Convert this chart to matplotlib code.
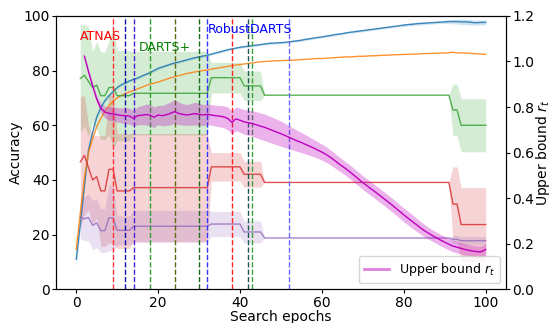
import numpy as np
import matplotlib
matplotlib.use("Agg")
from matplotlib import pyplot as plt
from matplotlib.lines import Line2D

# accuracy curves, epochs 0..100
epochs = np.arange(0, 101)
blue_acc = [11.0, 24.0, 38.0, 51.0, 57.5, 63.0, 66.5, 69.0, 70.8, 72.3,
            73.8, 74.8, 75.5, 76.2, 76.8, 77.3, 78.0, 78.6, 79.2, 80.0,
            80.8, 81.3, 81.8, 82.3, 82.8, 83.1, 83.5, 83.9, 84.3, 84.7,
            85.0, 85.3, 85.6, 86.0, 86.4, 86.8, 87.2, 87.6, 87.9, 88.2,
            88.5, 88.7, 88.9, 89.1, 89.3, 89.5, 89.7, 89.9, 90.0, 90.1,
            90.2, 90.3, 90.5, 90.7, 90.9, 91.1, 91.4, 91.6, 91.9, 92.1,
            92.3, 92.6, 92.8, 93.1, 93.3, 93.5, 93.8, 94.0, 94.2, 94.4,
            94.6, 94.8, 95.0, 95.2, 95.4, 95.6, 95.8, 96.0, 96.2, 96.4,
            96.6, 96.8, 96.9, 97.1, 97.2, 97.3, 97.4, 97.5, 97.6, 97.7,
            97.8, 97.9, 97.9, 97.9, 97.8, 97.8, 97.7, 97.5, 97.5, 97.6, 97.6]
blue_std = [3.0, 2.0, 1.5, 1.0, 0.8, 0.6, 0.5, 0.5, 0.5, 0.5,
            0.4, 0.4, 0.4, 0.4, 0.4, 0.4, 0.4, 0.4, 0.4, 0.4,
            0.4, 0.4, 0.4, 0.4, 0.4, 0.4, 0.4, 0.4, 0.4, 0.4,
            0.4, 0.4, 0.4, 0.4, 0.4, 0.4, 0.4, 0.4, 0.4, 0.4,
            0.4, 0.4, 0.4, 0.4, 0.4, 0.4, 0.4, 0.4, 0.4, 0.4,
            0.4, 0.4, 0.4, 0.4, 0.4, 0.4, 0.4, 0.4, 0.4, 0.4,
            0.4, 0.4, 0.4, 0.4, 0.4, 0.4, 0.4, 0.4, 0.4, 0.4,
            0.4, 0.4, 0.4, 0.4, 0.4, 0.4, 0.4, 0.4, 0.4, 0.4,
            0.5, 0.5, 0.5, 0.5, 0.5, 0.5, 0.5, 0.5, 0.5, 0.5,
            0.6, 0.7, 0.8, 0.9, 1.0, 1.0, 1.0, 1.0, 0.9, 0.9, 0.9]
orange_acc = [14.6, 28.0, 41.0, 50.0, 55.0, 59.5, 62.5, 65.0, 67.2, 68.8,
              70.0, 70.9, 71.6, 72.2, 72.7, 73.3, 73.9, 74.5, 75.0, 75.4,
              75.8, 76.3, 76.8, 77.3, 77.7, 78.1, 78.5, 78.9, 79.2, 79.5,
              79.8, 80.0, 80.2, 80.5, 80.8, 81.0, 81.3, 81.5, 81.8, 82.0,
              82.2, 82.4, 82.6, 82.8, 83.0, 83.2, 83.3, 83.4, 83.5, 83.6,
              83.6, 83.7, 83.7, 83.8, 83.9, 84.0, 84.1, 84.2, 84.3, 84.4,
              84.4, 84.5, 84.6, 84.7, 84.8, 84.9, 85.0, 85.0, 85.1, 85.2,
              85.2, 85.3, 85.4, 85.4, 85.5, 85.6, 85.6, 85.7, 85.8, 85.8,
              85.9, 85.9, 86.0, 86.0, 86.1, 86.2, 86.2, 86.3, 86.3, 86.4,
              86.4, 86.5, 86.7, 86.4, 86.5, 86.4, 86.3, 86.2, 86.1, 86.0, 85.9]

# per-run curves (mean / std), epochs 1..100
run_epochs = np.arange(1, 101)
green_mean = [77.1, 78.3, 76.0, 73.8, 74.7, 70.8, 70.8, 73.8, 73.8, 70.8,
              70.8, 70.8, 70.8, 71.7, 71.7, 71.7, 71.7, 71.7, 71.7, 71.7,
              71.7, 71.7, 71.7, 71.7, 71.7, 71.7, 71.7, 71.7, 71.7, 71.7,
              71.7, 71.7, 77.4, 77.4, 77.4, 77.4, 77.4, 77.4, 77.4, 77.4,
              74.4, 74.4, 74.4, 74.4, 74.4, 71.0, 71.0, 71.0, 71.0, 71.0,
              71.0, 71.0, 71.0, 71.0, 71.0, 71.0, 71.0, 71.0, 71.0, 71.0,
              71.0, 71.0, 71.0, 71.0, 71.0, 71.0, 71.0, 71.0, 71.0, 71.0,
              71.0, 71.0, 71.0, 71.0, 71.0, 71.0, 71.0, 71.0, 71.0, 71.0,
              71.0, 71.0, 71.0, 71.0, 71.0, 71.0, 71.0, 71.0, 71.0, 71.0,
              71.0, 65.6, 65.6, 60.0, 60.0, 60.0, 60.0, 60.0, 60.0, 60.0]
green_std = [19.5, 18.5, 20.0, 13.0, 16.0, 16.0, 16.0, 17.0, 22.0, 16.5,
             16.5, 16.5, 16.5, 15.3, 15.3, 15.3, 15.3, 15.3, 15.3, 15.3,
             15.3, 15.3, 15.3, 15.3, 15.3, 15.3, 15.3, 15.3, 15.3, 15.3,
             15.3, 15.3, 5.6, 5.6, 5.6, 5.6, 5.6, 5.6, 5.6, 5.6,
             5.4, 5.4, 5.4, 5.4, 5.4, 0, 0, 0, 0, 0,
             0, 0, 0, 0, 0, 0, 0, 0, 0, 0,
             0, 0, 0, 0, 0, 0, 0, 0, 0, 0,
             0, 0, 0, 0, 0, 0, 0, 0, 0, 0,
             0, 0, 0, 0, 0, 0, 0, 0, 0, 0,
             0, 9.4, 9.4, 9.7, 9.7, 9.7, 9.7, 9.7, 9.7, 9.7]
red_mean = [46.6, 49.0, 44.5, 40.0, 41.2, 36.0, 36.0, 43.9, 43.9, 36.0,
            36.0, 36.0, 36.0, 37.2, 37.2, 37.2, 37.2, 37.2, 37.2, 37.2,
            37.2, 37.2, 37.2, 37.2, 37.2, 37.2, 37.2, 37.2, 37.2, 37.2,
            37.2, 37.2, 44.8, 44.8, 44.8, 44.8, 44.8, 44.8, 44.8, 44.8,
            42.1, 42.1, 42.1, 42.1, 42.1, 39.1, 39.1, 39.1, 39.1, 39.1,
            39.1, 39.1, 39.1, 39.1, 39.1, 39.1, 39.1, 39.1, 39.1, 39.1,
            39.1, 39.1, 39.1, 39.1, 39.1, 39.1, 39.1, 39.1, 39.1, 39.1,
            39.1, 39.1, 39.1, 39.1, 39.1, 39.1, 39.1, 39.1, 39.1, 39.1,
            39.1, 39.1, 39.1, 39.1, 39.1, 39.1, 39.1, 39.1, 39.1, 39.1,
            39.1, 31.2, 31.2, 23.7, 23.7, 23.7, 23.7, 23.7, 23.7, 23.7]
red_std = [24.0, 21.8, 15.5, 16.3, 15.0, 20.3, 20.3, 27.0, 27.0, 21.0,
           21.0, 21.0, 21.0, 19.8, 19.8, 19.8, 19.8, 19.8, 19.8, 19.8,
           19.8, 19.8, 19.8, 19.8, 19.8, 19.8, 19.8, 19.8, 19.8, 19.8,
           19.8, 19.8, 5.2, 5.2, 5.2, 5.2, 5.2, 5.2, 5.2, 5.2,
           4.7, 4.7, 4.7, 4.7, 4.7, 0, 0, 0, 0, 0,
           0, 0, 0, 0, 0, 0, 0, 0, 0, 0,
           0, 0, 0, 0, 0, 0, 0, 0, 0, 0,
           0, 0, 0, 0, 0, 0, 0, 0, 0, 0,
           0, 0, 0, 0, 0, 0, 0, 0, 0, 0,
           0, 13.6, 13.6, 13.5, 13.5, 13.5, 13.5, 13.5, 13.5, 13.5]
purple_mean = [26.4, 25.8, 26.3, 23.4, 24.3, 21.5, 21.5, 26.1, 26.1, 21.6,
               21.6, 21.6, 21.6, 23.1, 23.1, 23.1, 23.1, 23.1, 23.1, 23.1,
               23.1, 23.1, 23.1, 23.1, 23.1, 23.1, 23.1, 23.1, 23.1, 23.1,
               23.1, 23.1, 23.9, 23.9, 23.9, 23.9, 23.9, 23.9, 23.9, 23.9,
               21.0, 21.0, 21.0, 21.0, 21.0, 18.8, 18.8, 18.8, 18.8, 18.8,
               18.8, 18.8, 18.8, 18.8, 18.8, 18.8, 18.8, 18.8, 18.8, 18.8,
               18.8, 18.8, 18.8, 18.8, 18.8, 18.8, 18.8, 18.8, 18.8, 18.8,
               18.8, 18.8, 18.8, 18.8, 18.8, 18.8, 18.8, 18.8, 18.8, 18.8,
               18.8, 18.8, 18.8, 18.8, 18.8, 18.8, 18.8, 18.8, 18.8, 18.8,
               18.8, 18.3, 18.3, 17.8, 17.8, 17.8, 17.8, 17.8, 17.8, 17.8]
purple_std = [7.8, 8.0, 8.5, 9.0, 9.0, 8.0, 8.0, 12.0, 12.0, 5.3,
              5.3, 5.3, 5.3, 5.8, 5.8, 5.8, 5.8, 5.8, 5.8, 5.8,
              5.8, 5.8, 5.8, 5.8, 5.8, 5.8, 5.8, 5.8, 5.8, 5.8,
              5.8, 5.8, 4.6, 4.6, 4.6, 4.6, 4.6, 4.6, 4.6, 4.6,
              4.0, 4.0, 4.0, 4.0, 4.0, 0, 0, 0, 0, 0,
              0, 0, 0, 0, 0, 0, 0, 0, 0, 0,
              0, 0, 0, 0, 0, 0, 0, 0, 0, 0,
              0, 0, 0, 0, 0, 0, 0, 0, 0, 0,
              0, 0, 0, 0, 0, 0, 0, 0, 0, 0,
              0, 1.5, 1.5, 1.5, 1.5, 1.5, 1.5, 1.5, 1.5, 1.5]

# upper bound r_t, epochs 2..100
rt_epochs = np.arange(2, 101)
rt_mean = [1.023, 0.955, 0.893, 0.835, 0.795, 0.778, 0.772, 0.770, 0.766,
           0.763, 0.762, 0.760, 0.750, 0.762, 0.764, 0.767, 0.765, 0.755, 0.765,
           0.762, 0.766, 0.772, 0.780, 0.772, 0.768, 0.765, 0.768, 0.771, 0.768,
           0.765, 0.768, 0.765, 0.762, 0.760, 0.757, 0.750, 0.733, 0.748, 0.742,
           0.735, 0.731, 0.727, 0.722, 0.716, 0.711, 0.704, 0.697, 0.690, 0.683,
           0.675, 0.667, 0.659, 0.651, 0.644, 0.636, 0.628, 0.620, 0.611, 0.602,
           0.592, 0.580, 0.567, 0.553, 0.540, 0.527, 0.513, 0.498, 0.483, 0.468,
           0.455, 0.441, 0.428, 0.414, 0.400, 0.386, 0.372, 0.357, 0.342, 0.327,
           0.313, 0.299, 0.285, 0.271, 0.258, 0.247, 0.236, 0.226, 0.216, 0.207,
           0.198, 0.190, 0.185, 0.180, 0.175, 0.171, 0.168, 0.165, 0.166, 0.175]
rt_std = [0.005, 0.010, 0.012, 0.015, 0.020, 0.025, 0.030, 0.030, 0.032,
          0.033, 0.035, 0.035, 0.035, 0.040, 0.042, 0.045, 0.048, 0.045, 0.042,
          0.045, 0.048, 0.050, 0.052, 0.050, 0.047, 0.045, 0.048, 0.050, 0.048,
          0.046, 0.045, 0.045, 0.046, 0.047, 0.048, 0.050, 0.050, 0.052, 0.053,
          0.054, 0.055, 0.056, 0.057, 0.058, 0.058, 0.058, 0.057, 0.056, 0.055,
          0.053, 0.050, 0.048, 0.046, 0.044, 0.042, 0.040, 0.038, 0.036, 0.035,
          0.034, 0.033, 0.032, 0.031, 0.030, 0.030, 0.030, 0.030, 0.030, 0.030,
          0.030, 0.030, 0.030, 0.030, 0.030, 0.030, 0.030, 0.030, 0.030, 0.030,
          0.030, 0.030, 0.029, 0.028, 0.027, 0.026, 0.025, 0.025, 0.025, 0.025,
          0.025, 0.025, 0.025, 0.025, 0.025, 0.025, 0.025, 0.025, 0.025, 0.025]

# stopping epochs of the baselines
vline_epochs = [9, 12, 14, 18, 24, 30, 32, 38, 42, 43, 52]
vline_colors = ["#ff3030", "#1010b0", "#4a20d0", "#2ca02c", "#5a6a10", "#1a6a1a",
                "#3535ff", "#ff2020", "#1a5a50", "#3aa03a", "#6a6aff"]

method_names = ["ATNAS", "DARTS+", "RobustDARTS"]
method_colors = ["red", "green", "blue"]
method_pos = [(1, 92.4), (15.3, 88.4), (32, 94.9)]


fig = plt.figure(figsize=(5.52, 3.23), dpi=100)
ax = fig.add_axes([0.101, 0.104, 0.816, 0.847])

ax.plot(epochs, blue_acc, color="tab:blue", lw=1, alpha=0.85)
ax.fill_between(epochs, np.array(blue_acc) - np.array(blue_std),
                np.array(blue_acc) + np.array(blue_std), color="tab:blue", alpha=0.2, lw=0)
ax.plot(epochs, orange_acc, color="tab:orange", lw=1, alpha=0.85)

for mean, std, col in [(green_mean, green_std, "tab:green"),
                       (red_mean, red_std, "tab:red"),
                       (purple_mean, purple_std, "tab:purple")]:
    m = np.array(mean)
    s = np.array(std)
    ax.plot(run_epochs, m, color=col, lw=1, alpha=0.8)
    ax.fill_between(run_epochs, m - s, m + s, color=col, alpha=0.2, lw=0)

for e, c in zip(vline_epochs, vline_colors):
    ax.axvline(e, color=c, ls="--", lw=1)

for name, col, (px, py) in zip(method_names, method_colors, method_pos):
    ax.text(px, py, name, color=col, fontsize=9, va="center", ha="left")

ax.set_ylim(0, 100)
ax.tick_params(length=3, pad=1.5)
ax.set_xlabel("Search epochs", labelpad=0)
ax.set_ylabel("Accuracy", labelpad=0)

ax2 = ax.twinx()
rm = np.array(rt_mean)
rs = np.array(rt_std)
ax2.fill_between(rt_epochs, rm - rs, rm + rs, color="m", alpha=0.3, lw=0)
ax2.plot(rt_epochs, rm, color="m", lw=1)
ax2.set_ylim(0, 1.2)
ax2.tick_params(length=3, pad=1.5)
ax2.set_ylabel("Upper bound $r_t$", labelpad=0)
handle = Line2D([], [], color="m", alpha=0.5, lw=2)
ax2.legend([handle], ["Upper bound $r_t$"], loc="lower right", fontsize=9)

fig.savefig("out.png", dpi=100)
